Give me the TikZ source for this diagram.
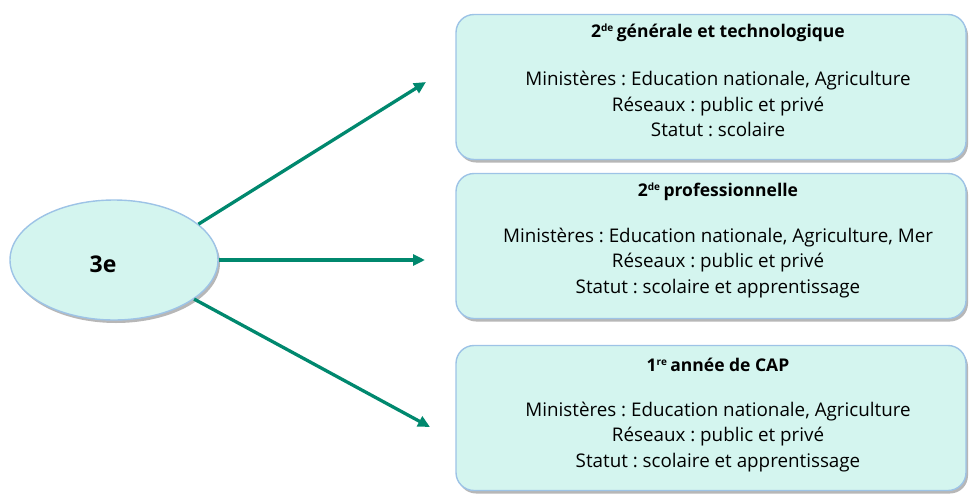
\documentclass[tikz,border=0pt]{standalone}
\usepackage{fontspec}
\setmainfont{Open Sans}
\frenchspacing
\usetikzlibrary{shapes.geometric,shadows,arrows.meta}
\definecolor{cfill}{HTML}{D4F5EF}
\definecolor{cborder}{HTML}{9DC3E6}
\definecolor{carrow}{HTML}{00886E}
\tikzset{
  shade box/.style={draw=cborder, line width=1.4pt, fill=cfill,
    drop shadow={shadow xshift=2pt, shadow yshift=-3pt, fill=black!40, opacity=0.7}},
  bigbox/.style={shade box, rounded corners=18pt, minimum width=510pt, minimum height=145pt, inner sep=0pt},
  oval/.style={shade box, ellipse, minimum width=208pt, minimum height=120pt, inner sep=0pt},
  ttl/.style={font=\fontsize{17.5}{20}\selectfont\bfseries},
  body/.style={font=\fontsize{18.8}{25.8}\selectfont, align=center},
  arr/.style={draw=carrow, line width=3.3pt, -{Triangle[length=12pt,width=11pt]}}
}
\newcommand{\supr}[1]{\textsuperscript{\fontsize{10}{10}\selectfont #1}}
\begin{document}
\begin{tikzpicture}[x=1pt,y=-1pt]
\useasboundingbox (0,0) rectangle (972,493);
\node[oval] (e) at (114,260) {};
\node[font=\fontsize{23}{26}\selectfont\bfseries] (t3) at (103,264) {3e};

\node[bigbox] (b1) at (711,87) {};
\node[ttl] (t1) at (718,33) {2\supr{de}\,générale et technologique};
\node[body] (l1) at (718,104) {Ministères : Education nationale, Agriculture\\Réseaux : public et privé\\Statut : scolaire};

\node[bigbox] (b2) at (711,246) {};
\node[ttl] (t2) at (718,192) {2\supr{de}\,professionnelle};
\node[body] (l2) at (718,263) {Ministères : Education nationale, Agriculture, Mer\\Réseaux : public et privé\\Statut : scolaire et apprentissage};

\node[bigbox] (b3) at (711,418) {};
\node[ttl] (t3b) at (718,365) {1\supr{re}\,année de CAP};
\node[body] (l3) at (718,437) {Ministères : Education nationale, Agriculture\\Réseaux : public et privé\\Statut : scolaire et apprentissage};

\coordinate (a1) at (426,82);
\coordinate (a2) at (425,260);
\coordinate (a3) at (430,427);
\draw[arr] (e.23.8) -- (a1);
\draw[arr] (e.east) -- (a2);
\draw[arr] (e.-26) -- (a3);
\end{tikzpicture}
\end{document}
